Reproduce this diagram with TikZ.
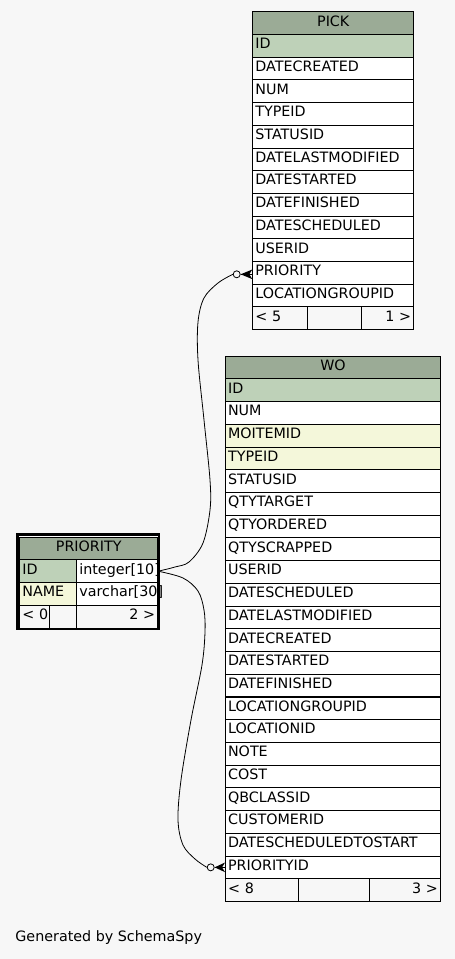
\documentclass[tikz,border=0pt]{standalone}
\usepackage{fontspec}
\newfontfamily\erfam{DejaVu Sans}
\definecolor{bgc}{HTML}{F7F7F7}
\definecolor{hdr}{HTML}{9BAB96}
\definecolor{pk}{HTML}{BED1B8}
\definecolor{idx}{HTML}{F4F7DA}
\tikzset{
  erfont/.style={font=\erfam\fontsize{14.3pt}{17pt}\selectfont},
  cell/.style={draw=black, line width=0.9pt, anchor=north west, inner xsep=2.6pt, inner ysep=0pt,
    minimum height=22.7pt, text height=9.5pt, text depth=3.6pt, align=left, erfont,
    execute at begin node={\hyphenpenalty=10000 \exhyphenpenalty=10000}},
  hdrcell/.style={cell, fill=hdr, align=center},
  rcell/.style={cell, align=right},
  foot/.style={cell, fill=bgc},
  conn/.style={draw=black, line width=0.8pt},
  odot/.style={circle, draw=black, fill=bgc, line width=0.8pt, minimum size=7pt, inner sep=0pt},
}
\begin{document}
\begin{tikzpicture}[x=1pt, y=-1pt]
\fill[bgc] (0,0) rectangle (455,959);
\useasboundingbox (0,0) rectangle (455,959);

% ---------- PICK ----------
\node[hdrcell, text width=155.8pt] (pick-h) at (252.3,11.3) {PICK};
\foreach \t/\c [count=\i from 0] in {ID/pk, DATECREATED/white, NUM/white, TYPEID/white, STATUSID/white,
  DATELASTMODIFIED/white, DATESTARTED/white, DATEFINISHED/white, DATESCHEDULED/white, USERID/white,
  PRIORITY/white, LOCATIONGROUPID/white}
  \node[cell, fill=\c, text width=155.8pt] (pick-\i) at (252.3, {11.3+22.7*(\i+1)}) {\t};
\node[foot, text width=49.8pt] (pick-f1) at (252.3,306.4) {\mbox{< 5}};
\node[foot, text width=48.2pt] (pick-f2) at (307.3,306.4) {};
\node[foot, rcell, text width=47.4pt] (pick-f3) at (360.7,306.4) {\mbox{1 >}};

% ---------- WO ----------
\node[hdrcell, text width=209.8pt] (wo-h) at (225,355.7) {WO};
\foreach \t/\c [count=\i from 0] in {ID/pk, NUM/white, MOITEMID/idx, TYPEID/idx, STATUSID/white,
  QTYTARGET/white, QTYORDERED/white, QTYSCRAPPED/white, USERID/white, DATESCHEDULED/white,
  DATELASTMODIFIED/white, DATECREATED/white, DATESTARTED/white, DATEFINISHED/white,
  LOCATIONGROUPID/white, LOCATIONID/white, NOTE/white, COST/white, QBCLASSID/white,
  CUSTOMERID/white, DATESCHEDULEDTOSTART/white, PRIORITYID/white}
  \node[cell, fill=\c, text width=209.8pt] (wo-\i) at (225, {355.7+22.72*(\i+1)}) {\t};
\node[foot, text width=67.5pt] (wo-f1) at (225,878.3) {\mbox{< 8}};
\node[foot, text width=65.8pt] (wo-f2) at (297.7,878.3) {};
\node[foot, rcell, text width=66.1pt] (wo-f3) at (368.7,878.3) {\mbox{3 >}};

% ---------- PRIORITY ----------
\draw[line width=2.5pt, fill=white] (17.25,534.55) rectangle (158.75,628.75);
\node[hdrcell, text width=132.8pt] (pri-h) at (19.3,536.7) {PRIORITY};
\node[cell, fill=pk, text width=51.8pt] (pri-id) at (19.3,559.4) {ID};
\node[cell, fill=white, text width=75.8pt] (pri-idt) at (76.3,559.4) {\mbox{integer[10]}};
\node[cell, fill=idx, text width=51.8pt] (pri-nm) at (19.3,582.1) {NAME};
\node[cell, fill=white, text width=75.8pt] (pri-nmt) at (76.3,582.1) {\mbox{varchar[30]}};
\node[foot, text width=24.8pt] (pri-f1) at (19.3,604.8) {\mbox{< 0}};
\node[foot, text width=21.8pt] (pri-f2) at (49.3,604.8) {};
\node[foot, rcell, text width=75.8pt] (pri-f3) at (76.3,604.8) {\mbox{2 >}};

% ---------- connectors ----------
\coordinate (e1) at ([yshift=-1.5pt]pick-10.west);
\node[odot] (o1) at ([xshift=-15.6pt]e1) {};
\draw[conn] plot[smooth, tension=0.55] coordinates {(pri-idt.east) (175,567) (189,562) (203,543)
  (210,510) (210,480) (204,420) (198,360) (198,322) (204,298) (218,283) (o1.west)};
\fill (o1.east) -- ([yshift=4.8pt]e1) -- ([xshift=-3pt]e1) -- ([yshift=-4.8pt]e1) -- cycle;
\draw[conn] (o1.east) -- (e1);

\coordinate (e2) at (wo-21.west);
\node[odot] (o2) at ([xshift=-14.3pt]e2) {};
\draw[conn] plot[smooth, tension=0.55] coordinates {(pri-idt.east) (183,578) (198,591) (204,610)
  (205,632) (202,665) (191,720) (181,780) (178,820) (183,845) (195,859) (o2.west)};
\fill (o2.east) -- ([yshift=4.8pt]e2) -- ([xshift=-3pt]e2) -- ([yshift=-4.8pt]e2) -- cycle;
\draw[conn] (o2.east) -- (e2);

\node[erfont, anchor=base west, inner sep=0pt] (gen) at (15.2,941.7) {Generated by SchemaSpy};
\end{tikzpicture}
\end{document}
